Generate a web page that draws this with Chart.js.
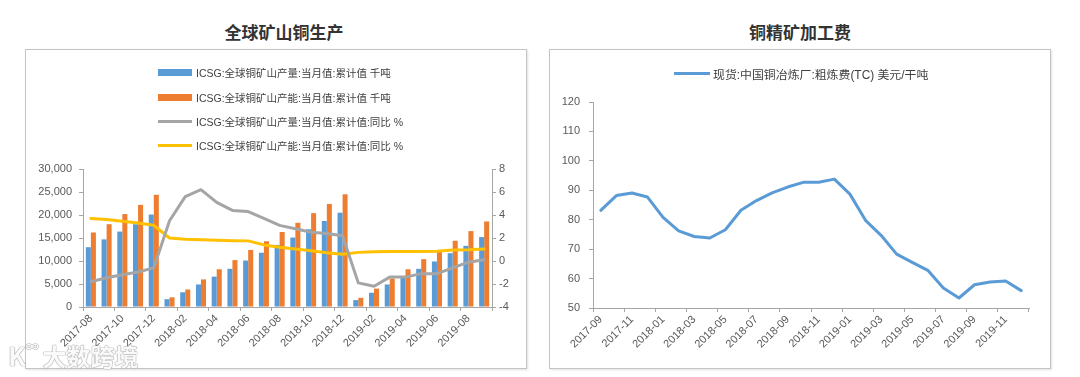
<!DOCTYPE html>
<html><head><meta charset="utf-8">
<script src="https://cdn.jsdelivr.net/npm/chart.js@4.4.0/dist/chart.umd.min.js"></script>
<style>
body{margin:0;background:#fff;width:1080px;height:377px;position:relative;overflow:hidden;font-family:"Liberation Sans","Noto Sans CJK SC",sans-serif;}
.title{position:absolute;font-family:"Noto Sans CJK SC",sans-serif;font-weight:bold;font-size:17px;color:#333;transform:translateX(-50%);white-space:nowrap;line-height:20px;}
.box{position:absolute;border:1px solid #c4c4c4;box-shadow:1px 1px 2px rgba(0,0,0,0.12);background:#fff;}
.cv{position:absolute;}
.leg{position:absolute;color:#404040;font-family:"Liberation Sans","Noto Sans CJK SC",sans-serif;}
.row{position:absolute;left:0;height:14px;display:flex;align-items:center;white-space:nowrap;transform:translateY(-50%);}
.mk{display:inline-block;margin-right:4px;}
#wm{position:absolute;left:8px;top:336px;white-space:nowrap;color:rgba(255,255,255,0.95);text-shadow:0 0 1px #9a9a9a,0 0 1px #9a9a9a,0 0 1px #9a9a9a;font-family:"Noto Sans CJK SC",sans-serif;font-weight:bold;}
</style></head><body>
<div class="title" style="left:284px;top:22px;">全球矿山铜生产</div>
<div class="title" style="left:800px;top:22px;">铜精矿加工费</div>
<div class="box" style="left:25px;top:49px;width:500px;height:318px;"></div>
<div class="box" style="left:549px;top:49px;width:500px;height:318px;"></div>
<canvas id="c1" class="cv" width="500" height="318" style="left:26px;top:50px;"></canvas>
<canvas id="c2" class="cv" width="500" height="318" style="left:550px;top:50px;"></canvas>
<div id="leg1" class="leg" style="left:158px;top:0px;font-size:10.5px;"></div>
<div id="leg2" class="leg" style="left:674px;top:0px;font-size:11.9px;"></div>
<div id="wm"><span style="font-size:26px;">K</span><span style="font-size:13px;vertical-align:top;">∞</span> <span style="font-size:24px;">大数跨境</span></div>
<script>
// ---- Left chart data ----
const leftCats = ['2017-08','2017-09','2017-10','2017-11','2017-12',
  '2018-01','2018-02','2018-03','2018-04','2018-05','2018-06','2018-07','2018-08','2018-09','2018-10','2018-11','2018-12',
  '2019-01','2019-02','2019-03','2019-04','2019-05','2019-06','2019-07','2019-08','2019-09'];
const prodVals = [13000,14700,16400,18000,20100,
  1700,3200,4900,6600,8300,10100,11800,13500,15100,16900,18700,20500,
  1500,3100,4900,6500,8300,9900,11700,13300,15200];
const capVals = [16200,18000,20200,22200,24400,
  2100,3800,6000,8200,10200,12400,14300,16300,18300,20400,22400,24500,
  2000,4000,6200,8200,10400,12400,14400,16500,18600];
const prodYoY = [-1.8,-1.45,-1.2,-0.95,-0.6,
  3.5,5.6,6.2,5.1,4.4,4.3,3.7,3.1,2.8,2.5,2.4,2.2,
  -1.9,-2.2,-1.4,-1.4,-1.1,-1.1,-0.6,-0.1,0.1];
const capYoY = [3.7,3.6,3.45,3.3,3.1,
  2.0,1.9,1.85,1.8,1.76,1.75,1.4,1.2,1.05,0.9,0.72,0.58,
  0.75,0.8,0.82,0.82,0.83,0.85,0.95,0.98,1.05];
const leftNames = ['ICSG:全球铜矿山产量:当月值:累计值 千吨','ICSG:全球铜矿山产能:当月值:累计值 千吨',
  'ICSG:全球铜矿山产量:当月值:累计值:同比 %','ICSG:全球铜矿山产能:当月值:累计值:同比 %'];
const leftTicks = [0,5000,10000,15000,20000,25000,30000];
const rightAxisTicks = [-4,-2,0,2,4,6,8];

// ---- Right chart data ----
const rightCats = ['2017-09','2017-10','2017-11','2017-12',
  '2018-01','2018-02','2018-03','2018-04','2018-05','2018-06','2018-07','2018-08','2018-09','2018-10','2018-11','2018-12',
  '2019-01','2019-02','2019-03','2019-04','2019-05','2019-06','2019-07','2019-08','2019-09','2019-10','2019-11','2019-12'];
const tcVals = [83.2,88.2,89.1,87.7,80.8,76.2,74.3,73.8,76.6,83.2,86.5,89.1,91.1,92.7,92.7,93.8,
  88.7,79.8,74.7,68.3,65.5,62.8,56.8,53.4,57.9,58.8,59.2,55.9];
const tcName = '现货:中国铜冶炼厂:粗炼费(TC) 美元/干吨';
const tcTicks = [50,60,70,80,90,100,110,120];

const BLUE='#5B9BD5', ORANGE='#ED7D31', GRAY='#A5A5A5', YELLOW='#FFC000', AX='#a6a6a6';
Chart.defaults.font.family = '"Liberation Sans","Noto Sans CJK SC",sans-serif';
Chart.defaults.font.size = 11;
Chart.defaults.color = '#595959';

const xGrid = { display:true, offset:true, drawOnChartArea:false, drawTicks:true, tickLength:4,
  color: c => (c.index === undefined || c.index % 2 === 0) ? AX : 'rgba(0,0,0,0)' };
const yGrid = { display:true, drawOnChartArea:false, drawTicks:true, tickLength:4, color:AX };

new Chart(document.getElementById('c1'), {
  type:'bar',
  data:{ labels:leftCats, datasets:[
    {type:'bar', label:leftNames[0], data:prodVals, backgroundColor:BLUE, yAxisID:'y', order:3, categoryPercentage:0.64, barPercentage:1},
    {type:'bar', label:leftNames[1], data:capVals, backgroundColor:ORANGE, yAxisID:'y', order:3, categoryPercentage:0.64, barPercentage:1},
    {type:'line', label:leftNames[2], data:prodYoY, borderColor:GRAY, backgroundColor:GRAY, borderWidth:3, pointRadius:0, tension:0, yAxisID:'y1', order:1, borderJoinStyle:'round', borderCapStyle:'round'},
    {type:'line', label:leftNames[3], data:capYoY, borderColor:YELLOW, backgroundColor:YELLOW, borderWidth:3, pointRadius:0, tension:0, yAxisID:'y1', order:2, borderJoinStyle:'round', borderCapStyle:'round'}
  ]},
  options:{
    responsive:false, animation:false, events:[],
    layout:{padding:{top:119,left:0,right:0,bottom:0}},
    plugins:{legend:{display:false}, tooltip:{enabled:false}},
    scales:{
      x:{ offset:true, grid:xGrid, border:{display:true,color:AX},
          ticks:{autoSkip:false, maxRotation:45, minRotation:45, padding:1, callback:(v,i)=> i%2===0 ? leftCats[i] : ''},
          afterFit:s=>{s.height=61;} },
      y:{ position:'left', min:leftTicks[0], max:leftTicks[leftTicks.length-1], grid:yGrid, border:{display:true,color:AX},
          afterBuildTicks:s=>{s.ticks = leftTicks.map(v=>({value:v}));},
          ticks:{padding:7, callback:v=>v.toLocaleString('en-US')},
          afterFit:s=>{s.width=57;} },
      y1:{ position:'right', min:rightAxisTicks[0], max:rightAxisTicks[rightAxisTicks.length-1], grid:yGrid, border:{display:true,color:AX},
          afterBuildTicks:s=>{s.ticks = rightAxisTicks.map(v=>({value:v}));},
          ticks:{padding:3},
          afterFit:s=>{s.width=34;} }
    }
  }
});

new Chart(document.getElementById('c2'), {
  type:'line',
  data:{ labels:rightCats, datasets:[
    {label:tcName, data:tcVals, borderColor:BLUE, backgroundColor:BLUE, borderWidth:3, pointRadius:0, tension:0, borderJoinStyle:'round', borderCapStyle:'round'}
  ]},
  options:{
    responsive:false, animation:false, events:[],
    layout:{padding:{top:52,left:0,right:21,bottom:0}},
    plugins:{legend:{display:false}, tooltip:{enabled:false}},
    scales:{
      x:{ offset:true, grid:xGrid, border:{display:true,color:AX},
          ticks:{autoSkip:false, maxRotation:45, minRotation:45, padding:1, callback:(v,i)=> i%2===0 ? rightCats[i] : ''},
          afterFit:s=>{s.height=60;} },
      y:{ position:'left', min:tcTicks[0], max:tcTicks[tcTicks.length-1], grid:yGrid, border:{display:true,color:AX},
          afterBuildTicks:s=>{s.ticks = tcTicks.map(v=>({value:v}));},
          ticks:{padding:9},
          afterFit:s=>{s.width=43;} }
    }
  }
});

// HTML legends (built from dataset labels/colours)
const leg1 = document.getElementById('leg1');
const legStyles = [[BLUE,'bar'],[ORANGE,'bar'],[GRAY,'line'],[YELLOW,'line']];
const rowY = [72, 97, 121, 145];
leftNames.forEach((n,i)=>{
  const r = document.createElement('div'); r.className='row'; r.style.top = rowY[i]+'px';
  const m = document.createElement('span'); m.className='mk';
  m.style.width='34px'; m.style.height = legStyles[i][1]==='bar' ? '7px' : '3px';
  m.style.background = legStyles[i][0];
  r.appendChild(m); r.appendChild(document.createTextNode(n)); leg1.appendChild(r);
});
const leg2 = document.getElementById('leg2');
{
  const r = document.createElement('div'); r.className='row'; r.style.top='73px';
  const m = document.createElement('span'); m.className='mk'; m.style.width='36px'; m.style.height='3px'; m.style.background=BLUE;
  m.style.marginRight='3px';
  r.appendChild(m); r.appendChild(document.createTextNode(tcName)); leg2.appendChild(r);
}
</script>
</body></html>
